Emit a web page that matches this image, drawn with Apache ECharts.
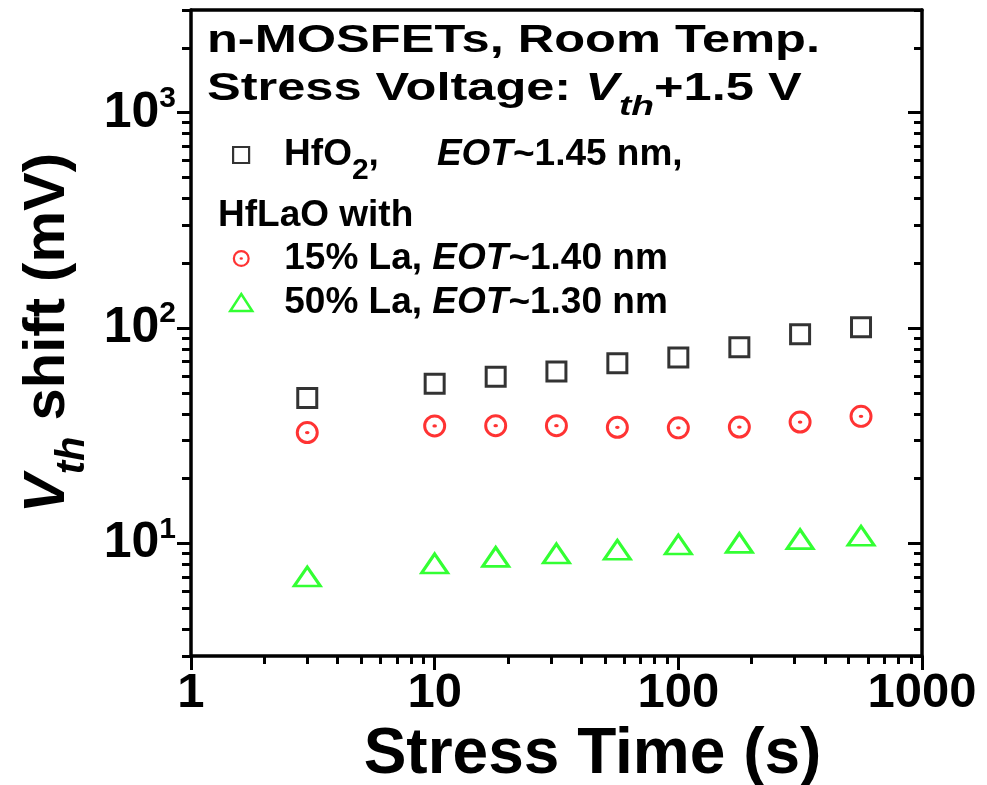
<!DOCTYPE html>
<html>
<head>
<meta charset="utf-8">
<script src="https://cdn.jsdelivr.net/npm/echarts@6/dist/echarts.min.js"></script>
<style>
  html, body { margin: 0; padding: 0; background: #fff; }
  #chart { width: 987px; height: 785px; }
</style>
</head>
<body>
<div id="chart"></div>
<script>
// Stress time (s) and threshold-voltage shift (mV) for each gate stack
const stressTime = [3, 10, 17.8, 31.6, 56.2, 100, 178, 316, 562];
const shiftHfO2 = [47.3, 55.2, 59.5, 62.9, 68.6, 73.1, 81.4, 93.5, 100.8];
const shiftLa15 = [32.7, 35.1, 35.2, 35.2, 34.6, 34.4, 34.7, 36.6, 38.9];
const shiftLa50 = [7.02, 8.07, 8.66, 8.98, 9.34, 9.88, 10.06, 10.47, 10.85];

// Axis ticks
const xMajorTicks = [1, 10, 100, 1000];
const xMinorTicks = [2, 3, 4, 5, 6, 7, 8, 9, 20, 30, 40, 50, 60, 70, 80, 90, 200, 300, 400, 500, 600, 700, 800, 900];
const yMajorTicks = [10, 100, 1000];
const yMinorTicks = [3, 4, 5, 6, 7, 8, 9, 20, 30, 40, 50, 60, 70, 80, 90, 200, 300, 400, 500, 600, 700, 800, 900, 2000, 3000];

const FONT = '"Liberation Sans", Arial, Helvetica, sans-serif';
const LINE_W = 3.5;
const TICK_W = 3;

// ring with a centre dot, used for the 15% La samples
const ringDot = 'path://M0,50 A50,50 0 1,0 100,50 A50,50 0 1,0 0,50 Z ' +
                'M13,50 A37,37 0 1,1 87,50 A37,37 0 1,1 13,50 Z ' +
                'M40,50 A10,7 0 1,0 60,50 A10,7 0 1,0 40,50 Z';

function pairs(ys) {
  return stressTime.map(function (t, i) { return [t, ys[i]]; });
}

const chart = echarts.init(document.getElementById('chart'), null, { renderer: 'canvas' });

function logAxisCommon(extra) {
  return Object.assign({
    type: 'log',
    logBase: 10,
    gridIndex: 0,
    splitLine: { show: false },
    axisLine: { show: false },
    axisLabel: { show: false },
    axisTick: { show: false },
    minorTick: { show: false },
    axisPointer: { show: false },
    silent: true
  }, extra);
}

function tok(size, extra) {
  return Object.assign({ fontFamily: FONT, fontWeight: 'bold', fontSize: size, color: '#000' }, extra || {});
}

const legendRowRich = {
  lead: tok(37, { width: 27, lineHeight: 40 }),
  n: tok(37, { lineHeight: 40 }),
  i: tok(37, { fontStyle: 'italic', lineHeight: 40 })
};

const legendHfRich = {
  lead: tok(37, { width: 30, lineHeight: 61 }),
  n: tok(37, { lineHeight: 61 }),
  i: tok(37, { fontStyle: 'italic', lineHeight: 61 }),
  sub: tok(30, { lineHeight: 30, verticalAlign: 'bottom' }),
  gap: tok(37, { width: 58, lineHeight: 61 })
};

const option = {
  backgroundColor: '#fff',
  animation: false,
  grid: { left: 191, right: 65, top: 10, bottom: 129, containLabel: false, outerBoundsMode: 'none' },
  xAxis: [
    logAxisCommon({
      position: 'bottom', min: 1, max: 1000,
      axisLine: { show: true, lineStyle: { color: '#000', width: LINE_W } },
      axisTick: { show: true, inside: false, length: 14, customValues: xMajorTicks, lineStyle: { color: '#000', width: TICK_W } },
      axisLabel: {
        show: true, customValues: xMajorTicks, margin: 13,
        fontFamily: FONT, fontWeight: 'bold', fontSize: 49, color: '#000',
        formatter: function (v) { return String(Math.round(v)); }
      },
      name: 'Stress Time (s)', nameLocation: 'middle', nameGap: 37,
      nameTextStyle: { fontFamily: FONT, fontWeight: 'bold', fontSize: 64, color: '#000', padding: [0, 0, 0, 72] }
    }),
    logAxisCommon({
      position: 'bottom', min: 1, max: 1000,
      axisTick: { show: true, inside: false, length: 8, customValues: xMinorTicks, lineStyle: { color: '#000', width: TICK_W } }
    }),
    logAxisCommon({
      position: 'top', min: 1, max: 1000,
      axisLine: { show: true, lineStyle: { color: '#000', width: LINE_W } }
    })
  ],
  yAxis: [
    logAxisCommon({
      position: 'left', min: 3, max: 3000,
      axisLine: { show: true, lineStyle: { color: '#000', width: LINE_W } },
      axisTick: { show: true, inside: false, length: 14, customValues: yMajorTicks, lineStyle: { color: '#000', width: TICK_W } },
      axisLabel: {
        show: true, customValues: yMajorTicks, margin: 15,
        formatter: function (v) {
          return '{b|10}{s|' + Math.round(Math.log10(v)) + '}';
        },
        rich: {
          b: tok(50, { lineHeight: 58 }),
          s: tok(30, { lineHeight: 30, verticalAlign: 'top' })
        }
      },
      name: '{v|V}{th|th}{n| shift (mV)}',
      nameLocation: 'middle', nameGap: 98, nameRotate: 90,
      nameTextStyle: {
        rich: {
          v: tok(58, { fontStyle: 'italic', lineHeight: 90 }),
          th: tok(40, { fontStyle: 'italic', lineHeight: 40, verticalAlign: 'bottom' }),
          n: tok(58, { lineHeight: 90 })
        }
      }
    }),
    logAxisCommon({
      position: 'left', min: 3, max: 3000,
      axisTick: { show: true, inside: false, length: 9, customValues: yMinorTicks, lineStyle: { color: '#000', width: TICK_W } }
    }),
    logAxisCommon({
      position: 'right', min: 3, max: 3000,
      axisLine: { show: true, lineStyle: { color: '#000', width: LINE_W } },
      axisTick: { show: true, inside: true, length: 14, customValues: yMajorTicks, lineStyle: { color: '#000', width: TICK_W } }
    }),
    logAxisCommon({
      position: 'right', min: 3, max: 3000,
      axisTick: { show: true, inside: true, length: 8, customValues: yMinorTicks, lineStyle: { color: '#000', width: TICK_W } }
    })
  ],
  legend: [
    {
      data: [{ name: 'HfO2', icon: 'rect' }],
      left: 232, top: 136.5, padding: 0,
      itemWidth: 16, itemHeight: 16,
      itemStyle: { borderWidth: 2.2 },
      selectedMode: false,
      formatter: function () { return '{lead| }{n|HfO}{sub|2}{n|,}{gap| }{i|EOT}{n|~1.45 nm,}'; },
      textStyle: { rich: legendHfRich }
    },
    {
      data: [{ name: '15% La', icon: ringDot }, { name: '50% La', icon: 'triangle' }],
      orient: 'vertical',
      left: 229, top: 240, padding: 0, itemGap: 7,
      itemWidth: 22, itemHeight: 17,
      itemStyle: { borderWidth: 2.5 },
      selectedMode: false,
      formatter: function (name) {
        return name === '15% La'
          ? '{lead| }{n|15% La, }{i|EOT}{n|~1.40 nm}'
          : '{lead| }{n|50% La, }{i|EOT}{n|~1.30 nm}';
      },
      textStyle: { rich: legendRowRich }
    }
  ],
  graphic: [
    {
      type: 'text', x: 207, y: 41.5, scaleX: 1.33, silent: true,
      style: { text: 'n-MOSFETs, Room Temp.', font: 'bold 38px ' + FONT, fill: '#000', verticalAlign: 'middle' }
    },
    {
      type: 'text', x: 207, y: 90, scaleX: 1.33, silent: true,
      style: {
        text: '{n|Stress Voltage: }{v|V}{s|th}{n|+1.5 V}',
        verticalAlign: 'middle',
        rich: {
          n: tok(38, { lineHeight: 63, fill: '#000' }),
          v: tok(38, { fontStyle: 'italic', lineHeight: 63, fill: '#000' }),
          s: tok(28, { fontStyle: 'italic', lineHeight: 28, verticalAlign: 'bottom', fill: '#000' })
        }
      }
    },
    {
      type: 'text', x: 218, y: 216, silent: true,
      style: { text: 'HfLaO with', font: 'bold 37px ' + FONT, fill: '#000', verticalAlign: 'middle' }
    }
  ],
  series: [
    {
      name: 'HfO2', type: 'scatter', xAxisIndex: 0, yAxisIndex: 0,
      symbol: 'rect', symbolSize: 19,
      itemStyle: { color: 'rgba(0,0,0,0)', borderColor: '#000', borderWidth: 3 },
      data: pairs(shiftHfO2)
    },
    {
      name: '15% La', type: 'scatter', xAxisIndex: 0, yAxisIndex: 0,
      symbol: ringDot, symbolSize: 23,
      itemStyle: { color: '#ff0000' },
      data: pairs(shiftLa15)
    },
    {
      name: '50% La', type: 'scatter', xAxisIndex: 0, yAxisIndex: 0,
      symbol: 'triangle', symbolSize: [26, 19],
      itemStyle: { color: 'rgba(0,0,0,0)', borderColor: '#00ff00', borderWidth: 3 },
      data: pairs(shiftLa50)
    }
  ]
};

chart.setOption(option);
</script>
</body>
</html>
